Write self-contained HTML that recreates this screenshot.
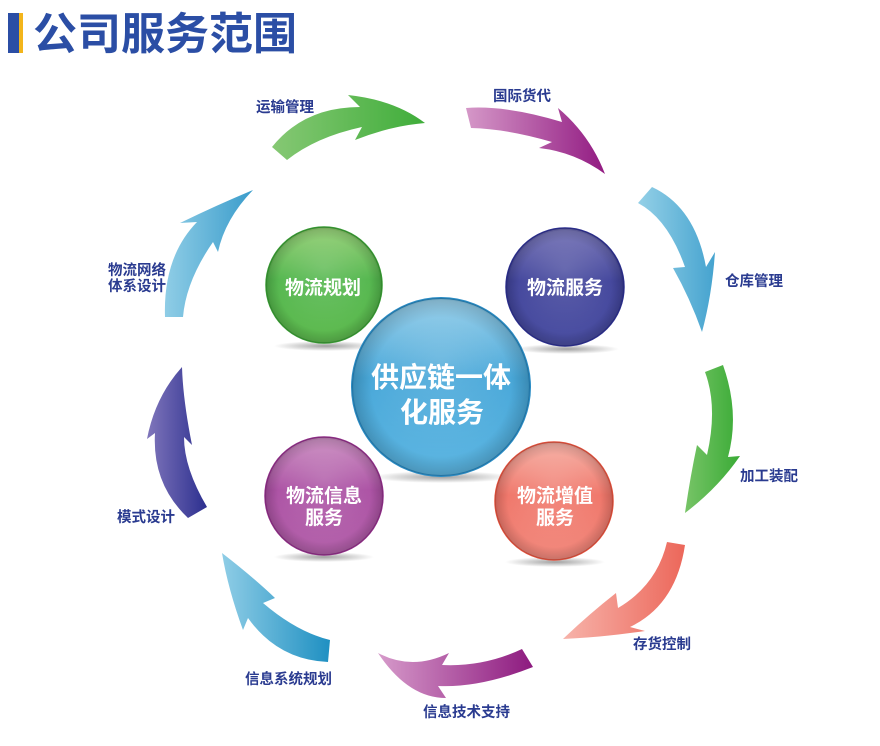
<!DOCTYPE html>
<html>
<head>
<meta charset="utf-8">
<style>
  html, body { margin: 0; padding: 0; background: #ffffff; }
  body { width: 880px; height: 746px; overflow: hidden; }
  svg { display: block; }
  .lbl { font-family: "Liberation Sans", "Noto Sans CJK SC", sans-serif; font-weight: bold; fill: #2a3b90; font-size: 14.5px; }
  .sp { font-family: "Liberation Sans", "Noto Sans CJK SC", sans-serif; font-weight: bold; fill: #ffffff; text-anchor: middle; }
</style>
</head>
<body>
<svg width="880" height="746" viewBox="0 0 880 746" xmlns="http://www.w3.org/2000/svg">
  <defs>
    <linearGradient id="a1" x1="0" y1="0" x2="1" y2="0"><stop offset="0" stop-color="#86c874"/><stop offset="1" stop-color="#3fad3a"/></linearGradient>
    <linearGradient id="a2" x1="0" y1="0" x2="1" y2="0"><stop offset="0" stop-color="#d598c8"/><stop offset="1" stop-color="#921b82"/></linearGradient>
    <linearGradient id="a3" x1="0" y1="0" x2="1" y2="0"><stop offset="0" stop-color="#94d0e7"/><stop offset="1" stop-color="#45a3cf"/></linearGradient>
    <linearGradient id="a4" x1="0" y1="0" x2="1" y2="0"><stop offset="0" stop-color="#77c467"/><stop offset="1" stop-color="#3aab36"/></linearGradient>
    <linearGradient id="a5" x1="0" y1="0" x2="1" y2="0"><stop offset="0" stop-color="#f7b3aa"/><stop offset="1" stop-color="#ec675a"/></linearGradient>
    <linearGradient id="a6" x1="0" y1="0" x2="1" y2="0"><stop offset="0" stop-color="#d69aca"/><stop offset="1" stop-color="#8d1a7f"/></linearGradient>
    <linearGradient id="a7" x1="0" y1="0" x2="1" y2="0"><stop offset="0" stop-color="#8fcde6"/><stop offset="1" stop-color="#1f90c2"/></linearGradient>
    <linearGradient id="a8" x1="0" y1="0" x2="1" y2="0"><stop offset="0" stop-color="#8076bb"/><stop offset="1" stop-color="#2c2f8f"/></linearGradient>
    <linearGradient id="a9" x1="0" y1="0" x2="1" y2="0"><stop offset="0" stop-color="#8fcde6"/><stop offset="1" stop-color="#3a9ccb"/></linearGradient>

    <linearGradient id="sG" x1="0" y1="0" x2="0" y2="1"><stop offset="0" stop-color="#8fcd6e"/><stop offset="0.45" stop-color="#4db447"/><stop offset="1" stop-color="#5fbb50"/></linearGradient>
    <linearGradient id="sN" x1="0" y1="0" x2="0" y2="1"><stop offset="0" stop-color="#6f6db3"/><stop offset="0.45" stop-color="#3b3e98"/><stop offset="1" stop-color="#4b4fa2"/></linearGradient>
    <linearGradient id="sP" x1="0" y1="0" x2="0" y2="1"><stop offset="0" stop-color="#c888be"/><stop offset="0.45" stop-color="#a84aa0"/><stop offset="1" stop-color="#b462ab"/></linearGradient>
    <linearGradient id="sR" x1="0" y1="0" x2="0" y2="1"><stop offset="0" stop-color="#f6ab9f"/><stop offset="0.45" stop-color="#ef7063"/><stop offset="1" stop-color="#f28a7e"/></linearGradient>
    <linearGradient id="sB" x1="0" y1="0" x2="0" y2="1"><stop offset="0" stop-color="#8fcbe8"/><stop offset="0.45" stop-color="#3fa3d7"/><stop offset="1" stop-color="#5db6e2"/></linearGradient>

    <radialGradient id="edge" cx="0.5" cy="0.5" r="0.5">
      <stop offset="0.78" stop-color="#000" stop-opacity="0"/>
      <stop offset="1" stop-color="#000" stop-opacity="0.18"/>
    </radialGradient>
    <radialGradient id="hl" cx="0.5" cy="0.35" r="0.6">
      <stop offset="0" stop-color="#fff" stop-opacity="0.18"/>
      <stop offset="1" stop-color="#fff" stop-opacity="0"/>
    </radialGradient>
    <radialGradient id="shd" cx="0.5" cy="0.5" r="0.5">
      <stop offset="0" stop-color="#8a8a8a" stop-opacity="0.8"/>
      <stop offset="1" stop-color="#8a8a8a" stop-opacity="0"/>
    </radialGradient>
  </defs>

  <!-- Title -->
  <rect x="8" y="13" width="11" height="40" fill="#2b4ea5"/>
  <rect x="19" y="13" width="4" height="40" fill="#f3b51b"/>
  <text x="33" y="49" style="font-family:'Liberation Sans','Noto Sans CJK SC',sans-serif;font-weight:bold;font-size:44px;fill:#2b4ea5;">公司服务范围</text>

  <!-- Arrows -->
  <path fill="url(#a1)" d="M272,147 Q304,107 360,107 L348,95 Q395,100 425,123 Q390,126 355,140 L362,127 Q316,137 287,160 Z"/>
  <path fill="url(#a2)" d="M466,108 Q506,105 562,122 L558,108 Q590,135 605,174 Q575,152 539,148 L552,142 Q508,129 471,128 Z"/>
  <path fill="url(#a3)" d="M652,187 Q695,207 706,267 L715,252 Q712,295 702,332 Q690,298 673,268 L685,267 Q668,219 638,203 Z"/>
  <path fill="url(#a4)" d="M723,365 Q740,413 728,457 L740,456 Q718,488 685,513 Q690,478 697,445 L707,455 Q718,407 705,372 Z"/>
  <path fill="url(#a5)" d="M685,545 Q676,605 630,627 L645,631 Q605,637 563,639 Q588,615 616,593 L618,608 Q657,585 667,542 Z"/>
  <path fill="url(#a6)" d="M533,667 Q480,688 438,686 L446,698 Q408,698 378,653 Q412,671 449,653 L442,665 Q484,667 522,649 Z"/>
  <path fill="url(#a7)" d="M328,662 Q278,660 248,618 L243,630 Q228,589 222,553 Q253,577 275,598 L263,603 Q297,632 330,640 Z"/>
  <path fill="url(#a8)" d="M188,518 Q152,484 155,433 L147,439 Q155,397 182,367 Q183,400 192,445 L184,437 Q184,468 207,507 Z"/>
  <path fill="url(#a9)" d="M165,317 Q163,257 197,222 L180,223 Q217,205 253,190 Q225,219 218,252 L213,242 Q186,281 183,317 Z"/>

  <!-- Arrow labels -->
  <text class="lbl" x="256" y="112">运输管理</text>
  <text class="lbl" x="493" y="101">国际货代</text>
  <text class="lbl" x="725" y="286">仓库管理</text>
  <text class="lbl" x="740" y="481">加工装配</text>
  <text class="lbl" x="633" y="649">存货控制</text>
  <text class="lbl" x="423" y="717">信息技术支持</text>
  <text class="lbl" x="245" y="684">信息系统规划</text>
  <text class="lbl" x="117" y="522">模式设计</text>
  <text class="lbl" x="108" y="275">物流网络</text>
  <text class="lbl" x="108" y="291">体系设计</text>

  <!-- Shadows -->
  <ellipse cx="326" cy="346" rx="52" ry="5" fill="url(#shd)"/>
  <ellipse cx="567" cy="349" rx="52" ry="5" fill="url(#shd)"/>
  <ellipse cx="324" cy="557" rx="50" ry="5" fill="url(#shd)"/>
  <ellipse cx="555" cy="562" rx="50" ry="5" fill="url(#shd)"/>
  <ellipse cx="442" cy="477" rx="70" ry="6" fill="url(#shd)"/>

  <!-- Spheres -->
  <g>
    <circle cx="324" cy="285" r="58" fill="url(#sG)" stroke="#3a9e35" stroke-width="1.5"/>
    <circle cx="324" cy="285" r="58" fill="url(#edge)"/>
    <circle cx="324" cy="285" r="56" fill="url(#hl)"/>
    <text class="sp" x="323" y="294" font-size="19">物流规划</text>
  </g>
  <g>
    <circle cx="565" cy="287" r="59" fill="url(#sN)" stroke="#2e3192" stroke-width="1.5"/>
    <circle cx="565" cy="287" r="59" fill="url(#edge)"/>
    <circle cx="565" cy="287" r="57" fill="url(#hl)"/>
    <text class="sp" x="565" y="294" font-size="19">物流服务</text>
  </g>
  <g>
    <circle cx="324" cy="496" r="59" fill="url(#sP)" stroke="#93308b" stroke-width="1.5"/>
    <circle cx="324" cy="496" r="59" fill="url(#edge)"/>
    <circle cx="324" cy="496" r="57" fill="url(#hl)"/>
    <text class="sp" x="324" y="502" font-size="19">物流信息</text>
    <text class="sp" x="324" y="524" font-size="19">服务</text>
  </g>
  <g>
    <circle cx="554" cy="501" r="59" fill="url(#sR)" stroke="#e4533f" stroke-width="1.5"/>
    <circle cx="554" cy="501" r="59" fill="url(#edge)"/>
    <circle cx="554" cy="501" r="57" fill="url(#hl)"/>
    <text class="sp" x="555" y="502" font-size="19">物流增值</text>
    <text class="sp" x="555" y="524" font-size="19">服务</text>
  </g>
  <g>
    <circle cx="441" cy="387" r="89" fill="url(#sB)" stroke="#2a8cc5" stroke-width="2"/>
    <circle cx="441" cy="387" r="89" fill="url(#edge)"/>
    <circle cx="441" cy="387" r="87" fill="url(#hl)"/>
    <text class="sp" x="441" y="387" font-size="28">供应链一体</text>
    <text class="sp" x="442" y="422" font-size="28">化服务</text>
  </g>
</svg>
</body>
</html>
